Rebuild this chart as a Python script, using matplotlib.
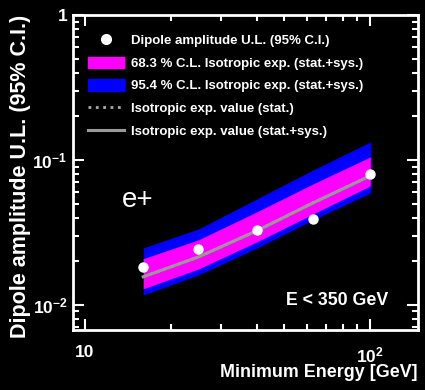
import matplotlib
matplotlib.use('Agg')
import matplotlib.pyplot as plt
from matplotlib.lines import Line2D
from matplotlib.patches import Patch

#---------Data
energy = [16, 25, 40, 63, 100]            # minimum energy [GeV]
dipole_ul = [0.0182, 0.0242, 0.0326, 0.039, 0.080]

band_e = [16, 25, 40, 63, 100]
blue_lo = [0.0117, 0.0161, 0.0247, 0.0386, 0.0592]
blue_hi = [0.0247, 0.0334, 0.0538, 0.0853, 0.133]
mag_lo = [0.0129, 0.0177, 0.0272, 0.0424, 0.0662]
mag_hi = [0.0208, 0.0281, 0.0438, 0.0683, 0.1049]
iso_stat = [0.0156, 0.0214, 0.0324, 0.0505, 0.0776]
iso_sys = [0.0156, 0.0214, 0.0324, 0.0505, 0.0776]

legend_labels = ['Dipole amplitude U.L. (95% C.I.)',
                 '68.3 % C.L. Isotropic exp. (stat.+sys.)',
                 '95.4 % C.L. Isotropic exp. (stat.+sys.)',
                 'Isotropic exp. value (stat.)',
                 'Isotropic exp. value (stat.+sys.)']

plt.rcParams['font.family'] = ['Liberation Sans', 'DejaVu Sans']
plt.rcParams['mathtext.fontset'] = 'custom'
plt.rcParams['mathtext.bf'] = 'Liberation Sans:bold'
plt.rcParams['mathtext.rm'] = 'Liberation Sans'

fig = plt.figure(figsize=(4.25, 3.9), dpi=100, facecolor='black')
ax = fig.add_axes([73/425, 60/390, 345/425, 315/390], facecolor='black')

# bands and lines
ax.fill_between(band_e, blue_lo, blue_hi, color='#0000ff', lw=0)
ax.fill_between(band_e, mag_lo, mag_hi, color='#ff00ff', lw=0)
ax.plot(band_e, iso_stat, color='#aaaaaa', ls=':', lw=2)
ax.plot(band_e, iso_sys, color='#999999', lw=2.2)
ax.plot(energy, dipole_ul, 'o', color='white', ms=6.5, mec='white')

ax.set_xscale('log')
ax.set_yscale('log')
ax.set_xlim(9.08, 147)
ax.set_ylim(0.0067, 1)

for s in ax.spines.values():
    s.set_color('white')
    s.set_linewidth(2)
ax.tick_params(which='both', direction='in', colors='white', top=True, right=True, width=1.5)
ax.tick_params(which='major', length=8, labelsize=12.5)
ax.tick_params(which='minor', length=4)
ax.tick_params(axis='x', which='major', pad=11)
ax.tick_params(axis='y', which='major', pad=4)
ax.set_xticks([10, 100])
ax.set_xticklabels(['10', '$\\mathbf{10^{2}}$'], fontweight='bold')
ax.set_yticks([0.01, 0.1, 1])
ax.set_yticklabels(['$\\mathbf{10^{-2}}$', '$\\mathbf{10^{-1}}$', '1'], fontweight='bold')

ax.set_xlabel('Minimum Energy [GeV]', color='white', fontsize=12.9, fontweight='bold',
              loc='right', labelpad=-1)
ax.set_ylabel('Dipole amplitude U.L. (95% C.I.)', color='white', fontsize=15.5,
              fontweight='bold', loc='top', labelpad=1)

ax.text(0.142, 0.39, 'e+', transform=ax.transAxes, color='white', fontsize=20)
ax.text(0.913, 0.079, 'E < 350 GeV', transform=ax.transAxes, color='white', fontsize=12.8,
        fontweight='bold', ha='right')

handles = [Line2D([], [], marker='o', ls='', color='white', ms=7),
           Patch(color='#ff00ff'),
           Patch(color='#0000ff'),
           Line2D([], [], color='#aaaaaa', ls=':', lw=2),
           Line2D([], [], color='#999999', lw=2.2)]
leg = ax.legend(handles, legend_labels, loc='upper left', bbox_to_anchor=(0.01, 0.978),
                frameon=False, fontsize=9.5, handlelength=2.7, handleheight=0.95,
                labelspacing=0.72, handletextpad=0.55)
for t in leg.get_texts():
    t.set_color('white')
    t.set_fontweight('bold')

fig.savefig('out.png', dpi=100, facecolor='black')
